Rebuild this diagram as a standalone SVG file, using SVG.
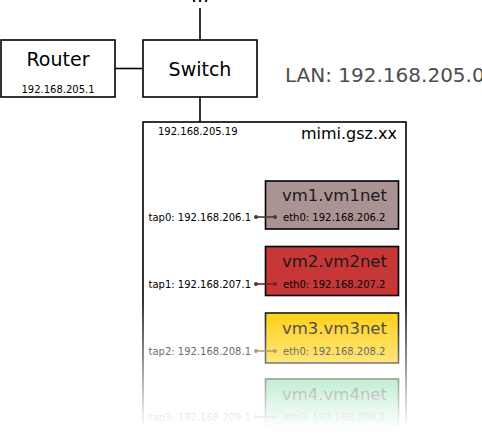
<svg xmlns="http://www.w3.org/2000/svg" width="482" height="438" viewBox="0 0 482 438">
<style>
.box{fill:#fff;stroke:#000;stroke-width:1.6}
.vm{stroke:#000;stroke-width:1.6}
.line{stroke:#000;stroke-width:1.6;fill:none}
text{font-family:"DejaVu Sans","Liberation Sans",sans-serif;fill:#000}
.big{font-size:19px}
.vmt{font-size:16.5px;fill:#1a1a1a}
.sm{font-size:10px}
</style>
<defs>
<linearGradient id="fade" x1="0" y1="0" x2="0" y2="1">
<stop offset="0" stop-color="#fff" stop-opacity="0"/>
<stop offset="1" stop-color="#fff" stop-opacity="1"/>
</linearGradient>
<linearGradient id="yel" x1="0" y1="0" x2="0" y2="1">
<stop offset="0" stop-color="#ffcc00"/>
<stop offset="1" stop-color="#ffcc00"/>
</linearGradient>
</defs>
<g id="connectors">
<line class="line" x1="200" y1="8" x2="200" y2="40"/>
<line class="line" x1="115" y1="68.5" x2="143" y2="68.5"/>
<line class="line" x1="200" y1="97" x2="200" y2="122"/>
</g>
<g id="top-ellipsis"><text class="big" x="200" y="2" text-anchor="middle">...</text></g>
<g id="router">
<rect class="box" x="1" y="40" width="114" height="57"/>
<text class="big" x="58" y="66" text-anchor="middle">Router</text>
<text class="sm" x="58" y="92.5" text-anchor="middle">192.168.205.1</text>
</g>
<g id="switch">
<rect class="box" x="143" y="40" width="114" height="57"/>
<text class="big" x="200" y="76" text-anchor="middle">Switch</text>
</g>
<g id="lan"><text x="285" y="82" style="font-size:20px;fill:#4d4d4d">LAN: 192.168.205.0</text></g>
<g id="host">
<rect class="box" x="143" y="122" width="263" height="320"/>
<text class="sm" x="158" y="135">192.168.205.19</text>
<text x="397" y="139" text-anchor="end" style="font-size:16px">mimi.gsz.xx</text>
</g>
<g id="vm1">
<rect class="vm" x="265.5" y="181" width="133" height="48" fill="#ac9393"/>
<text class="vmt" x="282" y="201">vm1.vm1net</text>
<text class="sm" x="283" y="221">eth0: 192.168.206.2</text>
<text class="sm" x="251" y="221" text-anchor="end">tap0: 192.168.206.1</text>
<line x1="256" y1="217" x2="275" y2="217" stroke="#483737" stroke-width="1.6"/>
<circle cx="256" cy="217" r="2" fill="#483737"/>
<circle cx="275" cy="217" r="2" fill="#483737"/>
</g>
<g id="vm2">
<rect class="vm" x="265.5" y="246.5" width="133" height="49" fill="#c83737"/>
<text class="vmt" x="282" y="267">vm2.vm2net</text>
<text class="sm" x="283" y="288">eth0: 192.168.207.2</text>
<text class="sm" x="251" y="288" text-anchor="end">tap1: 192.168.207.1</text>
<line x1="256" y1="284" x2="275" y2="284" stroke="#782121" stroke-width="1.6"/>
<circle cx="256" cy="284" r="2" fill="#782121"/>
<circle cx="275" cy="284" r="2" fill="#782121"/>
</g>
<g id="vm3">
<rect class="vm" x="265.5" y="313" width="133" height="50" fill="url(#yel)"/>
<text class="vmt" x="282" y="334">vm3.vm3net</text>
<text class="sm" x="283" y="355">eth0: 192.168.208.2</text>
<text class="sm" x="251" y="355" text-anchor="end">tap2: 192.168.208.1</text>
<line x1="256" y1="351" x2="275" y2="351" stroke="#806600" stroke-width="1.6"/>
<circle cx="256" cy="351" r="2" fill="#806600"/>
<circle cx="275" cy="351" r="2" fill="#806600"/>
</g>
<g id="vm4">
<rect class="vm" x="265.5" y="379" width="133" height="50" fill="#5fd38d"/>
<text class="vmt" x="282" y="400">vm4.vm4net</text>
<text class="sm" x="283" y="421">eth0: 192.168.209.2</text>
<text class="sm" x="251" y="421" text-anchor="end">tap3: 192.168.209.1</text>
<line x1="256" y1="417" x2="275" y2="417" stroke="#333" stroke-width="1.6"/>
<circle cx="256" cy="417" r="2" fill="#333"/>
<circle cx="275" cy="417" r="2" fill="#333"/>
</g>
<rect id="fade-overlay" x="0" y="300" width="482" height="128" fill="url(#fade)"/>
<rect x="0" y="427" width="482" height="11" fill="#fff"/>
</svg>
